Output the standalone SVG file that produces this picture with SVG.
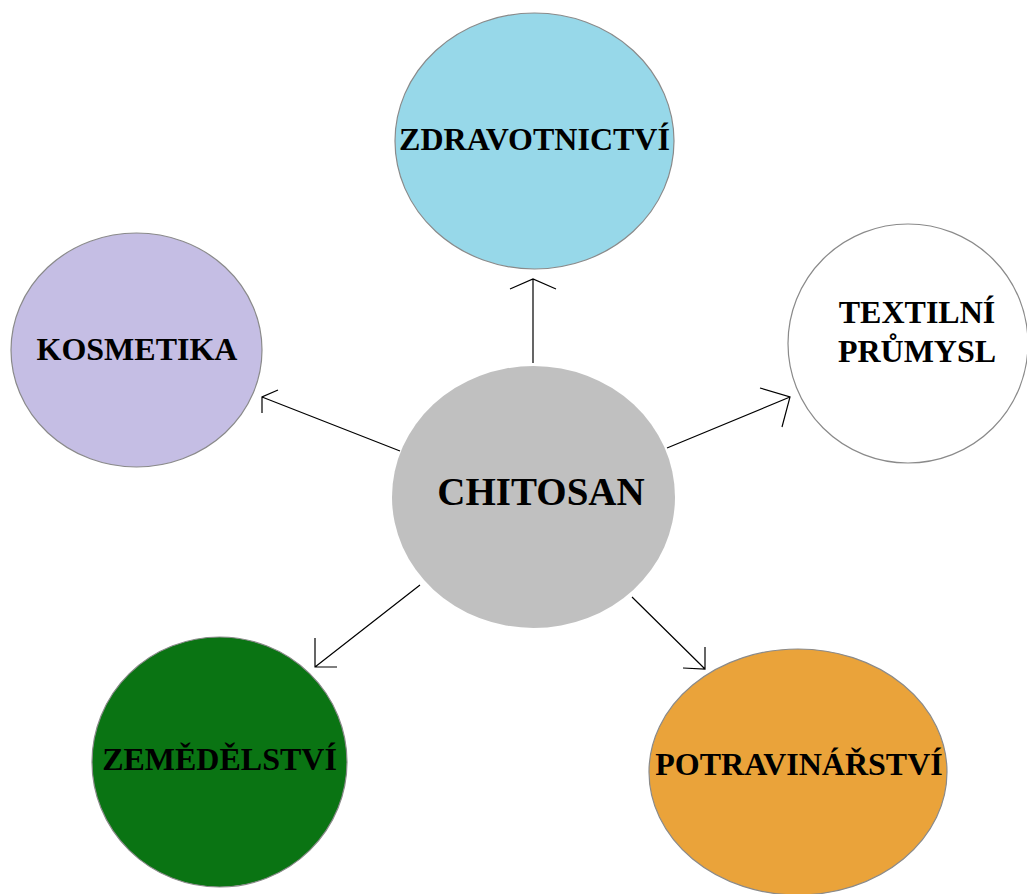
<svg xmlns="http://www.w3.org/2000/svg" width="1027" height="894" viewBox="0 0 1027 894">
<style>
.n{stroke:#8a8a8a;stroke-width:1.2}
.t{font-family:"Liberation Serif","Times New Roman",serif;font-weight:bold;font-size:32px;fill:#000;text-anchor:middle}
.c{fill:none;stroke:#000;stroke-width:1.2}
</style>
<rect width="1027" height="894" fill="#fff"/>
<g id="connectors">
<path class="c" d="M533,363 L533,279 M510,289 L533,279 L556,289"/>
<path class="c" d="M400,451 L262,397 M278,390 L262,397 L262,413"/>
<path class="c" d="M667,448 L790,397 M760,388 L790,397 L782,427"/>
<path class="c" d="M420,585 L315,667 M315,638 L315,667 L337,667"/>
<path class="c" d="M632,597 L705,669 M683,668 L705,669 L705,647"/>
</g>
<g id="zdravotnictvi">
<ellipse class="n" cx="534.5" cy="141" rx="139.5" ry="128" fill="#97d8e9"/>
<text class="t" x="534.5" y="150">ZDRAVOTNICTVÍ</text>
</g>
<g id="kosmetika">
<ellipse class="n" cx="136.5" cy="350" rx="125.5" ry="117" fill="#c5bee4"/>
<text class="t" x="137" y="360">KOSMETIKA</text>
</g>
<g id="textilni">
<ellipse class="n" cx="908" cy="343.5" rx="120" ry="119.5" fill="#fff"/>
<text class="t" x="917" y="323">TEXTILNÍ</text>
<text class="t" x="917" y="362">PRŮMYSL</text>
</g>
<g id="chitosan">
<ellipse cx="533.5" cy="497" rx="141.5" ry="131" fill="#c0c0c0"/>
<text class="t" x="541" y="505" style="font-size:39px">CHITOSAN</text>
</g>
<g id="zemedelstvi">
<ellipse class="n" cx="219.5" cy="762" rx="127.5" ry="125" fill="#0a7413"/>
<text class="t" x="219.5" y="770">ZEMĚDĚLSTVÍ</text>
</g>
<g id="potravinarstvi">
<ellipse class="n" cx="798" cy="772" rx="149" ry="123" fill="#eaa33a"/>
<text class="t" x="799" y="775">POTRAVINÁŘSTVÍ</text>
</g>
</svg>
